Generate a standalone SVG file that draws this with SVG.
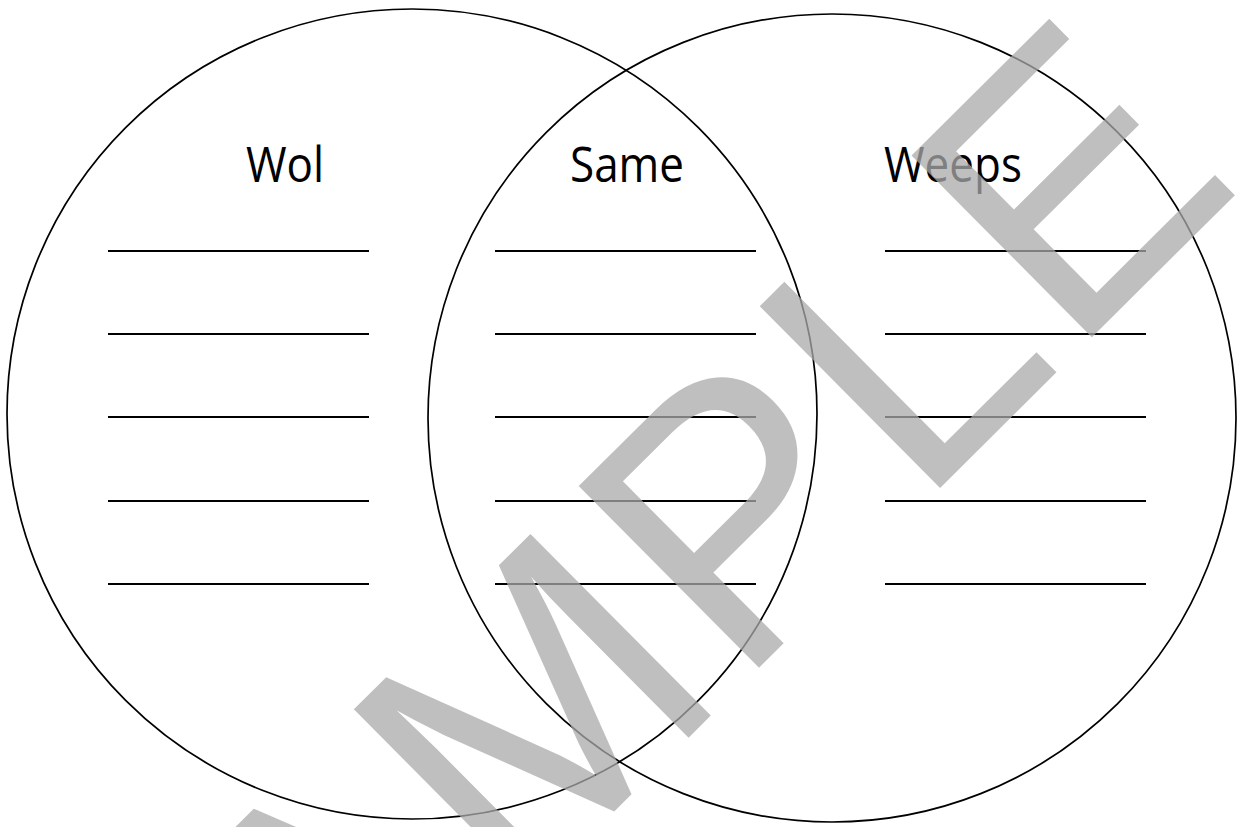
<svg xmlns="http://www.w3.org/2000/svg" width="1239" height="827" viewBox="0 0 1239 827">
<style>
.c{fill:none;stroke:#000;stroke-width:1.7}
.l{stroke:#000;stroke-width:2.2}
.t{font-family:"Open Sans","Liberation Sans",sans-serif;font-size:44px;fill:#000}
.wm{font-family:"Liberation Sans",Arial,sans-serif;font-size:372px;letter-spacing:7px;fill:#aaaaaa;fill-opacity:0.75}
</style>
<rect width="1239" height="827" fill="#fff"/>
<g id="circle-left"><circle class="c" cx="412" cy="414" r="405"/></g>
<g id="circle-right"><circle class="c" cx="832" cy="418" r="404"/></g>
<g id="labels">
<text class="t" transform="translate(246 182) scale(1 1.1)">Wol</text>
<text class="t" transform="translate(570 182) scale(1 1.1)">Same</text>
<text class="t" transform="translate(884 182) scale(1 1.1)">Weeps</text>
</g>
<g id="lines-left">
<line class="l" x1="108" y1="251" x2="369" y2="251"/>
<line class="l" x1="108" y1="334" x2="369" y2="334"/>
<line class="l" x1="108" y1="417" x2="369" y2="417"/>
<line class="l" x1="108" y1="501" x2="369" y2="501"/>
<line class="l" x1="108" y1="584" x2="369" y2="584"/>
</g>
<g id="lines-middle">
<line class="l" x1="495" y1="251" x2="756" y2="251"/>
<line class="l" x1="495" y1="334" x2="756" y2="334"/>
<line class="l" x1="495" y1="417" x2="756" y2="417"/>
<line class="l" x1="495" y1="501" x2="756" y2="501"/>
<line class="l" x1="495" y1="584" x2="756" y2="584"/>
</g>
<g id="lines-right">
<line class="l" x1="885" y1="251" x2="1146" y2="251"/>
<line class="l" x1="885" y1="334" x2="1146" y2="334"/>
<line class="l" x1="885" y1="417" x2="1146" y2="417"/>
<line class="l" x1="885" y1="501" x2="1146" y2="501"/>
<line class="l" x1="885" y1="584" x2="1146" y2="584"/>
</g>
<g id="watermark">
<text class="wm" transform="translate(150.5 1272) rotate(-44.8)">SAMPLE</text>
</g>
</svg>
